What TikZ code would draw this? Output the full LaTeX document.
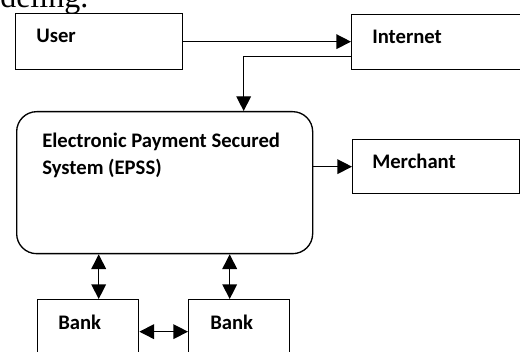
\documentclass[tikz,border=0pt]{standalone}
\usepackage{fontspec}
\setmainfont{Carlito}
\newfontfamily\serifcap{Liberation Serif}
\usetikzlibrary{arrows.meta,calc}
\tikzset{
  px/.style={x=0.75pt,y=-0.75pt},
  box/.style={draw,line width=1pt,rectangle,inner sep=0pt,anchor=north west},
  rbox/.style={box,rounded corners=15pt},
  lbl/.style={anchor=base west,inner sep=0pt,font=\fontsize{15.5pt}{18pt}\selectfont\bfseries},
  conn/.style={line width=1pt},
  tip/.style={-{Triangle[length=11pt,width=11pt]}},
  both/.style={{Triangle[length=11pt,width=11pt]}-{Triangle[length=11pt,width=11pt]}}
}
\begin{document}
\begin{tikzpicture}[px]
\useasboundingbox (0,0) rectangle (520,352);
\clip (0,0) rectangle (520,352);
\node[anchor=base west,inner sep=0pt,font=\serifcap\fontsize{24pt}{26pt}\selectfont] (cut) at (0,8) {deling.};
% boxes
\node[box,minimum width=125.25pt,minimum height=42pt] (user) at (15,13) {};
\node[box,minimum width=127.5pt,minimum height=41.25pt] (internet) at (351,14) {};
\node[rbox,minimum width=222pt,minimum height=106.5pt] (epss) at (16,111) {};
\node[box,minimum width=125.25pt,minimum height=40.5pt] (merchant) at (352,139) {};
\node[box,minimum width=75.75pt,minimum height=48pt] (bank1) at (37,299) {};
\node[box,minimum width=75.75pt,minimum height=48pt] (bank2) at (188,299) {};
% labels
\node[lbl] (userl) at (36,43) {User};
\node[lbl] (internetl) at (372,44) {Internet};
\node[lbl] (epssl1) at (42,148) {Electronic Payment Secured};
\node[lbl] (epssl2) at (42,175) {System (EPSS)};
\node[lbl] (merchantl) at (372,169) {Merchant};
\node[lbl] (bank1l) at (58,329) {Bank};
\node[lbl] (bank2l) at (210,329) {Bank};
% connectors
\draw[conn,tip] (user.east) -- (internet.west |- user.east);
\coordinate (inetout) at ([yshift=-10.9pt]internet.west);
\coordinate (epssin) at ([xshift=59.25pt]epss.north);
\draw[conn,tip] (inetout) -| (epssin);
\draw[conn,tip] (epss.east |- merchant.west) -- (merchant.west);
\coordinate (b1top) at ([xshift=7.9pt]bank1.north);
\coordinate (b2top) at ([xshift=-7.1pt]bank2.north);
\draw[conn,both] (epss.south -| b1top) -- (b1top);
\draw[conn,both] (epss.south -| b2top) -- (b2top);
\draw[conn,both] (bank1.east) -- (bank2.west);
\end{tikzpicture}
\end{document}
